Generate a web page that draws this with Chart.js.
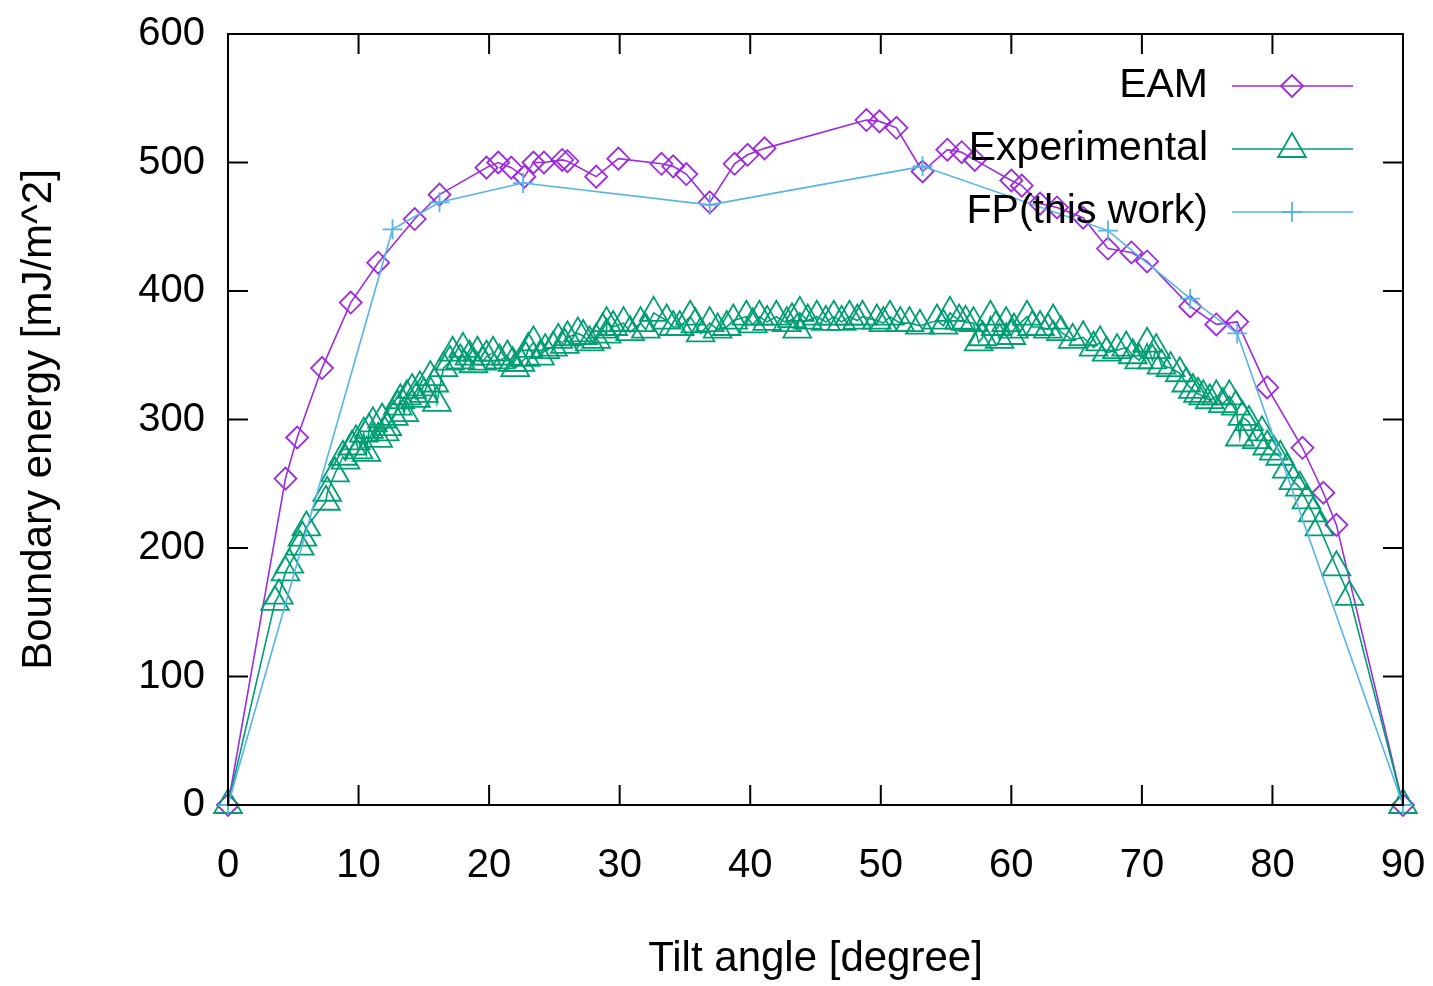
<!DOCTYPE html>
<html>
<head>
<meta charset="utf-8">
<title>Boundary energy vs tilt angle</title>
<script src="https://cdn.jsdelivr.net/npm/chart.js@4.4.1/dist/chart.umd.min.js"></script>
<style>
    html, body { margin: 0; padding: 0; background: #fff; }
    #wrap { width: 1433px; height: 986px; }
</style>
</head>
<body>
<div id="wrap"><canvas id="energyChart" width="1433" height="986"></canvas></div>
<script>
// ========================================
// DATA
// ========================================

const xTicks = [0, 10, 20, 30, 40, 50, 60, 70, 80, 90];
const yTicks = [0, 100, 200, 300, 400, 500, 600];

const seriesNames = ['EAM', 'Experimental', 'FP(this work)'];

const eamX = [0, 4.4, 5.3, 7.2, 9.4, 11.5, 14.3, 16.2, 19.8, 20.7, 21.7, 22.7, 23.4, 24.2, 25.6, 26.0,
    28.2, 29.9, 33.2, 34.1, 35.1, 36.9, 38.8, 39.8, 41.1, 48.9, 49.9, 51.2, 53.2, 55.1, 56.2, 57.2,
    60.0, 60.8, 62.2, 63.5, 65.5, 67.4, 69.2, 70.4, 73.7, 75.7, 77.3, 79.6, 82.3, 83.9, 84.9, 90];
const eamY = [0, 254, 286, 340, 391, 422, 456, 475, 496, 500, 496, 489, 500, 500, 502, 501,
    489, 503, 499, 497, 491, 469, 499, 506, 511, 533, 532, 527, 493, 510, 508, 502,
    486, 482, 468, 465, 457, 433, 430, 423, 388, 374, 376, 325, 278, 243, 218, 0];

const expX = [0, 3.6, 3.9, 4.4, 4.7, 5.5, 5.7, 6.0, 7.5, 7.6, 8.2, 8.8, 9.0, 9.5, 9.8, 10.0, 10.4, 10.6,
    10.8, 11.1, 11.5, 11.8, 12.0, 12.2, 12.7, 13.0, 13.2, 13.5, 13.7, 14.1, 14.4, 14.7, 15.0, 15.5,
    15.8, 16.0, 16.5, 17.0, 17.2, 17.8, 18.0, 18.5, 18.8, 19.1, 19.5, 19.8, 20.3, 20.8, 21.4, 21.8,
    22.0, 22.4, 22.8, 23.0, 23.4, 23.9, 24.3, 24.9, 25.3, 25.8, 26.0, 26.8, 27.2, 27.7, 28.2, 28.7,
    29.0, 29.0, 29.5, 30.3, 30.8, 31.6, 32.0, 32.6, 33.6, 34.1, 34.6, 35.4, 35.8, 36.2, 36.9, 37.5,
    38.2, 38.7, 39.7, 40.2, 40.7, 41.3, 42.0, 42.8, 43.2, 43.6, 43.8, 44.4, 45.1, 45.8, 46.4, 47.0,
    47.6, 48.2, 48.6, 49.7, 50.2, 50.7, 51.5, 52.2, 53.0, 54.3, 54.8, 55.3, 56.0, 56.5, 57.1, 57.5,
    57.8, 58.4, 58.8, 59.1, 59.6, 60.0, 60.2, 61.2, 61.6, 62.2, 62.8, 63.2, 63.8, 64.7, 65.5, 66.3,
    66.8, 67.3, 68.1, 68.8, 69.3, 69.8, 70.4, 70.8, 71.1, 71.5, 72.2, 72.9, 73.4, 73.9, 74.3, 74.7,
    75.2, 75.7, 76.2, 76.7, 77.2, 77.5, 77.7, 78.2, 78.8, 79.2, 79.6, 80.1, 80.6, 81.1, 81.6, 82.1,
    82.6, 83.1, 83.6, 84.9, 85.9, 90];
const expY = [0, 158, 163, 181, 187, 201, 208, 216, 236, 243, 258, 271, 268, 279, 283, 276, 289, 274,
    292, 297, 285, 300, 290, 294, 302, 310, 315, 305, 318, 323, 316, 325, 320, 333,
    328, 313, 340, 345, 352, 346, 355, 349, 343, 352, 345, 349, 352, 346, 349, 344,
    340, 344, 348, 355, 360, 349, 354, 356, 362, 358, 364, 367, 365, 360, 362, 370,
    366, 375, 372, 375, 368, 375, 370, 383, 377, 372, 372, 380, 374, 367, 375, 370,
    372, 377, 380, 374, 380, 376, 380, 375, 378, 370, 383, 377, 380, 376, 380, 376,
    380, 377, 380, 377, 375, 380, 375, 375, 373, 377, 373, 383, 377, 376, 375, 360,
    364, 380, 372, 362, 375, 365, 370, 380, 372, 372, 370, 377, 368, 362, 364, 356,
    360, 352, 354, 356, 350, 346, 359, 346, 354, 342, 340, 336, 328, 323, 320, 318,
    315, 318, 312, 318, 310, 286, 302, 298, 284, 290, 279, 275, 271, 261, 252, 247,
    237, 227, 216, 185, 162, 0];

const fpX = [0, 12.6, 16.2, 22.6, 36.9, 53.2, 67.4, 73.7, 77.3, 90];
const fpY = [0, 448, 469, 484, 467, 497, 447, 394, 367, 0];

(function () {
    'use strict';

    // ========================================
    // STYLE
    // ========================================

    const FONT = "'Liberation Sans', Arial, Helvetica, sans-serif";
    const colors = {
        eam: '#9d2be0',
        exp: '#009e73',
        fp: '#56b4e9',
        axis: '#000000'
    };

    const toPoints = (xs, ys) => xs.map((x, i) => ({ x: x, y: ys[i] }));

    // no label overhang padding: the plot box is placed by layout.padding only
    const noOverhang = s => {
        s.paddingLeft = 0;
        s.paddingRight = 0;
        s.paddingTop = 0;
        s.paddingBottom = 0;
    };

    // ========================================
    // FRAME + INWARD TICKS (gnuplot look)
    // ========================================

    const framePlugin = {
        id: 'frame',
        afterDraw(chart) {
            const { ctx, chartArea: a, scales } = chart;
            const len = 20;
            ctx.save();
            ctx.strokeStyle = colors.axis;
            ctx.lineWidth = 2;
            ctx.beginPath();
            xTicks.forEach(v => {
                const px = scales.x.getPixelForValue(v);
                ctx.moveTo(px, a.bottom); ctx.lineTo(px, a.bottom - len);
                ctx.moveTo(px, a.top); ctx.lineTo(px, a.top + len);
            });
            yTicks.forEach(v => {
                const py = scales.y.getPixelForValue(v);
                ctx.moveTo(a.left, py); ctx.lineTo(a.left + len, py);
                ctx.moveTo(a.right, py); ctx.lineTo(a.right - len, py);
            });
            ctx.stroke();
            ctx.strokeRect(a.left, a.top, a.right - a.left, a.bottom - a.top);
            ctx.restore();
        }
    };

    // ========================================
    // KEY (top right, text before sample)
    // ========================================

    const keyPlugin = {
        id: 'key',
        afterDatasetsDraw(chart) {
            const { ctx } = chart;
            const rows = [86, 149, 212];
            ctx.save();
            chart.data.datasets.forEach((ds, i) => {
                const y = rows[i];
                ctx.font = '41px ' + FONT;
                ctx.fillStyle = '#000';
                ctx.textAlign = 'right';
                ctx.textBaseline = 'alphabetic';
                ctx.fillText(ds.label, 1208, y + 11);

                ctx.strokeStyle = ds.borderColor;
                ctx.lineWidth = 1.6;
                ctx.beginPath();
                ctx.moveTo(1232, y);
                ctx.lineTo(1353, y);
                ctx.stroke();

                ctx.fillStyle = 'rgba(0,0,0,0)';
                ctx.strokeStyle = ds.pointBorderColor;
                ctx.lineWidth = ds.pointBorderWidth;
                Chart.helpers.drawPoint(ctx, {
                    pointStyle: ds.pointStyle,
                    radius: ds.pointRadius,
                    borderWidth: ds.pointBorderWidth,
                    rotation: 0
                }, 1292, y);
            });
            ctx.restore();
        }
    };

    // ========================================
    // CHART
    // ========================================

    function makeSeries(label, xs, ys, color, style, radius, order) {
        return {
            label: label,
            data: toPoints(xs, ys),
            showLine: true,
            borderColor: color,
            borderWidth: 1.6,
            backgroundColor: 'rgba(0,0,0,0)',
            pointStyle: style,
            pointRadius: radius,
            pointHoverRadius: radius,
            pointBorderColor: color,
            pointBackgroundColor: 'rgba(0,0,0,0)',
            pointBorderWidth: 1.8,
            tension: 0,
            clip: false,
            order: order
        };
    }

    function initChart() {
        const ctx = document.getElementById('energyChart');

        const tickFont = { family: FONT, size: 40 };
        const titleFont = { family: FONT, size: 42 };

        new Chart(ctx, {
            type: 'scatter',
            data: {
                datasets: [
                    makeSeries(seriesNames[0], eamX, eamY, colors.eam, 'rectRot', 11, 3),
                    makeSeries(seriesNames[1], expX, expY, colors.exp, 'triangle', 16, 2),
                    makeSeries(seriesNames[2], fpX, fpY, colors.fp, 'cross', 10, 1)
                ]
            },
            options: {
                responsive: false,
                animation: false,
                layout: { autoPadding: false, padding: { top: 34, right: 30, left: 0, bottom: 0 } },
                plugins: {
                    legend: { display: false },
                    tooltip: { enabled: false }
                },
                scales: {
                    x: {
                        type: 'linear',
                        min: 0,
                        max: 90,
                        afterFit: s => { s.height = 181; noOverhang(s); },
                        afterBuildTicks: s => { s.ticks = xTicks.map(v => ({ value: v })); },
                        grid: { display: false, drawTicks: false },
                        border: { display: false },
                        ticks: { font: tickFont, color: '#000', padding: 37, maxRotation: 0 },
                        title: {
                            display: true,
                            text: 'Tilt angle [degree]',
                            font: titleFont,
                            color: '#000',
                            padding: { top: 0, bottom: 1 }
                        }
                    },
                    y: {
                        type: 'linear',
                        min: 0,
                        max: 600,
                        afterFit: s => { s.width = 228; noOverhang(s); },
                        afterBuildTicks: s => { s.ticks = yTicks.map(v => ({ value: v })); },
                        grid: { display: false, drawTicks: false },
                        border: { display: false },
                        ticks: { font: tickFont, color: '#000', padding: 23 },
                        title: {
                            display: true,
                            text: 'Boundary energy [mJ/m^2]',
                            font: titleFont,
                            color: '#000',
                            padding: { top: 14, bottom: 0 }
                        }
                    }
                }
            },
            plugins: [framePlugin, keyPlugin]
        });
    }

    if (document.readyState === 'loading') {
        document.addEventListener('DOMContentLoaded', initChart);
    } else {
        initChart();
    }
})();
</script>
</body>
</html>
